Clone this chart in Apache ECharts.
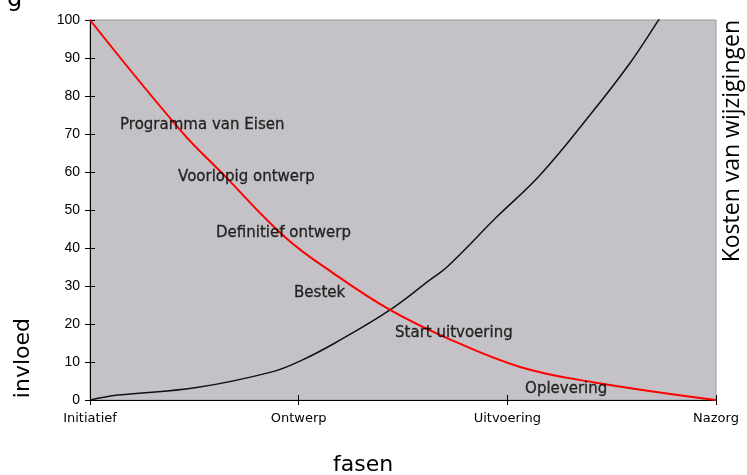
<!DOCTYPE html>
<html>
<head>
<meta charset="utf-8">
<script src="https://cdn.jsdelivr.net/npm/echarts@6/dist/echarts.min.js"></script>
<style>html,body{margin:0;padding:0;background:#fff}#c{width:747px;height:475px}</style>
</head>
<body>
<div id="c"></div>
<script>
var phases = ['Initiatief', 'Ontwerp', 'Uitvoering', 'Nazorg'];
var yTicks = [0, 10, 20, 30, 40, 50, 60, 70, 80, 90, 100];
// invloed (red): [phase position, value]
var invloed = [[0,100],[0.441,70.5],[0.633,59.7],[0.934,42.9],[1.165,33.4],[1.438,23.7],[1.711,16.3],[2.061,8.7],[2.41,4.7],[3,0]];
// kosten van wijzigingen (black)
var kosten = [[0,0],[0.134,1.3],[0.503,3.2],[0.872,7.4],[1.016,10.5],[1.174,15],[1.438,23.7],[1.629,31.6],[1.711,35],[1.95,48.2],[2.157,59.2],[2.396,75],[2.588,88.7],[2.731,100.5],[2.827,108.4]];
var stageNames = ['Programma van Eisen','Voorlopig ontwerp','Definitief ontwerp','Bestek','Start uitvoering','Oplevering'];
var stageX = [0.144, 0.422, 0.604, 0.978, 1.462, 2.085];
var stageY = [72.4, 58.7, 43.9, 28.2, 17.6, 2.9];

var stageData = stageNames.map(function(n, i){ return {value:[stageX[i], stageY[i]], name:n}; });

var chart = echarts.init(document.getElementById('c'), null, {renderer:'canvas'});
chart.setOption({
  animation: false,
  backgroundColor: '#ffffff',
  grid: {left: 90, right: 31, top: 20, bottom: 75, show: true, backgroundColor: '#c4c2c6', borderColor: '#9a9a9a', borderWidth: 1},
  title: {text: 'g', left: 2, top: -17, textStyle: {fontSize: 24, fontWeight: 'normal', color: '#000', fontFamily: 'DejaVu Sans'}},
  graphic: [
    {type: 'text', left: 721, top: 20, style: {text: 'Kosten van wijzigingen', fill: '#000', font: '23px "Open Sans"'}, rotation: Math.PI/2, originX: 0, originY: 0},
    {type: 'text', left: 12, top: 318, style: {text: 'invloed', fill: '#000', font: '22px "DejaVu Sans"'}, rotation: Math.PI/2, originX: 0, originY: 0},
    {type: 'text', left: 333, top: 454, style: {text: 'fasen', fill: '#000', font: '22px "DejaVu Sans"'}}
  ],
  xAxis: [{
    type: 'value', min: 0, max: phases.length - 1, interval: 1,
    splitLine: {show: false},
    axisLine: {show: true, onZero: false, lineStyle: {color: '#000', width: 1}},
    axisTick: {show: true, length: 5, lineStyle: {color: '#000'}},
    axisLabel: {color: '#000', fontSize: 13, fontFamily: 'DejaVu Sans', margin: 12, formatter: function(v){ return phases[Math.round(v)] || ''; }}
  }, {
    type: 'value', min: 0, max: phases.length - 1, interval: 1, position: 'bottom',
    splitLine: {show: false}, axisLine: {show: false},
    axisTick: {show: true, inside: true, length: 5, lineStyle: {color: '#000'}},
    axisLabel: {show: false}
  }],
  yAxis: [{
    type: 'value', min: 0, max: 100, interval: 10,
    splitLine: {show: false},
    axisLine: {show: true, onZero: false, lineStyle: {color: '#000', width: 1}},
    axisTick: {show: true, length: 5, lineStyle: {color: '#000'}},
    axisLabel: {color: '#000', fontSize: 14, fontFamily: 'Liberation Sans', margin: 10, formatter: function(v){ return yTicks.indexOf(v) >= 0 ? String(v) : ''; }}
  }, {
    type: 'value', min: 0, max: 100, interval: 10, position: 'left',
    splitLine: {show: false}, axisLine: {show: false},
    axisTick: {show: true, inside: true, length: 5, lineStyle: {color: '#000'}},
    axisLabel: {show: false}
  }],
  series: [
    {type: 'line', data: kosten, smooth: 0.4, showSymbol: false, clip: true, lineStyle: {color: '#111', width: 1.5}, z: 3},
    {type: 'line', data: invloed, smooth: 0.4, showSymbol: false, clip: true, lineStyle: {color: '#ff0000', width: 2}, z: 4},
    {type: 'scatter', data: stageData, symbolSize: 0, z: 5, silent: true,
     label: {show: true, position: 'right', distance: 0, formatter: '{b}', color: '#000', fontSize: 15, fontFamily: 'DejaVu Sans', textBorderColor: '#000', textBorderWidth: 0.3}}
  ]
});
</script>
</body>
</html>
